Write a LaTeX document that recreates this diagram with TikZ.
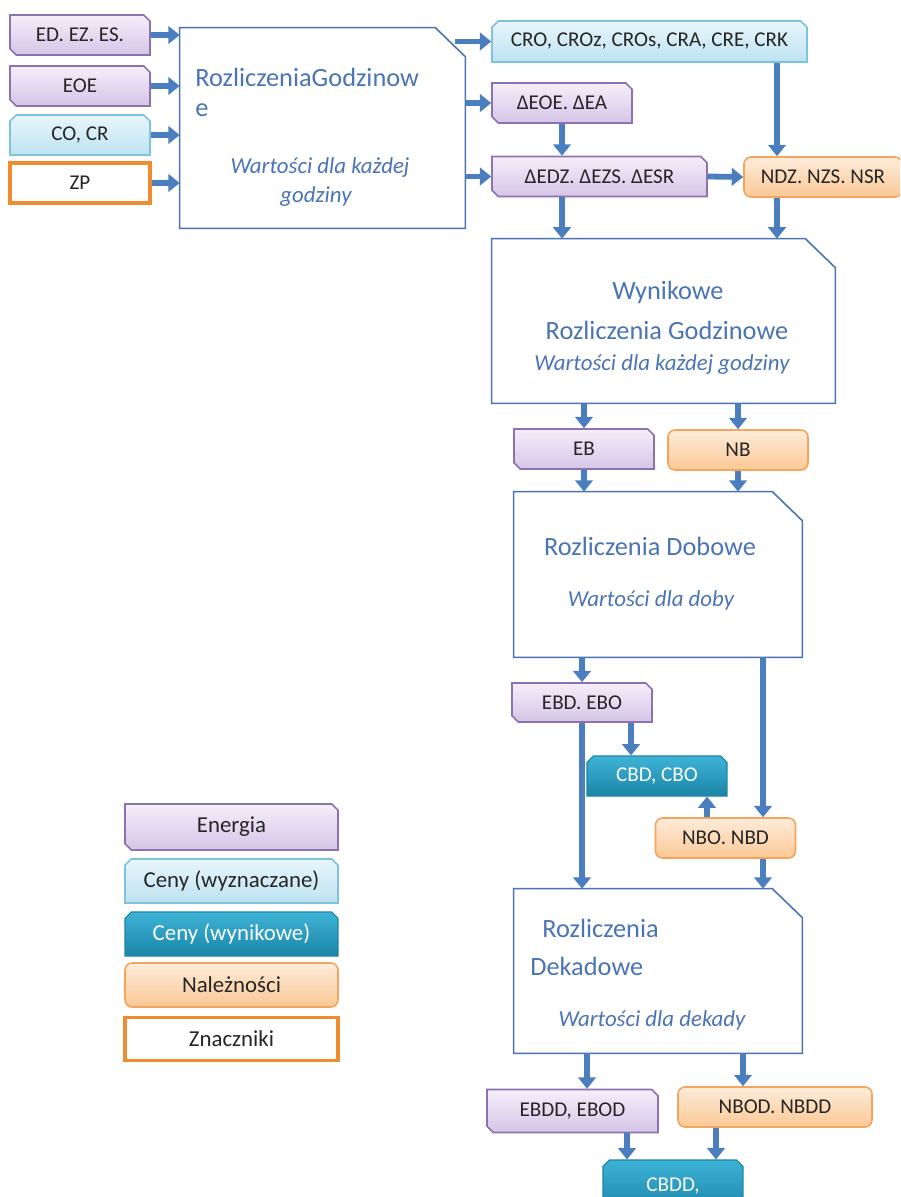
\documentclass[tikz,border=0pt]{standalone}
\usepackage{fontspec}
\setmainfont{Carlito}
\usetikzlibrary{shapes.misc,arrows.meta,calc}

\definecolor{flowblue}{HTML}{4A7EBF}
\definecolor{headblue}{HTML}{4A74B4}
\definecolor{enTop}{HTML}{F5EEFA}
\definecolor{enBot}{HTML}{D6C5E7}
\definecolor{enLine}{HTML}{8C72AE}
\definecolor{cwTop}{HTML}{E8F6FC}
\definecolor{cwBot}{HTML}{BDE2F1}
\definecolor{cwLine}{HTML}{7EC3DA}
\definecolor{crTop}{HTML}{3EB3D7}
\definecolor{crBot}{HTML}{1B85A6}
\definecolor{naTop}{HTML}{FDECDA}
\definecolor{naBot}{HTML}{FBC895}
\definecolor{naLine}{HTML}{F4A45C}
\definecolor{znLine}{HTML}{F08C30}

\newcommand{\lblfont}{\fontsize{12}{14}\selectfont}
\newcommand{\legfont}{\fontsize{13}{15}\selectfont}
\newcommand{\headfont}{\fontsize{15}{18}\selectfont}
\newcommand{\subfont}{\fontsize{13}{15}\selectfont\itshape}

% outline of a process box with the snipped top right corner
\newcommand{\procbox}[1]{%
  \draw[procline] (#1.south west) -- (#1.north west) -- ($(#1.north east)+(-30,0)$)
    -- ($(#1.north east)+(0,29)$) -- (#1.south east) -- cycle;}

\tikzset{
  flow/.style={-{Triangle[width=10pt,length=6.5pt]}, line width=3.3pt, draw=flowblue},
  item/.style={inner sep=0pt, minimum width=2.8cm, minimum height=0.8cm, font=\lblfont, text=black!85},
  energia/.style={item, chamfered rectangle, chamfered rectangle corners={north east,south west},
    chamfered rectangle xsep=1.8pt, chamfered rectangle ysep=1.8pt,
    draw=enLine, line width=0.9pt, top color=enTop, bottom color=enBot},
  cenaw/.style={item, chamfered rectangle, chamfered rectangle corners={north east,north west},
    chamfered rectangle xsep=1.8pt, chamfered rectangle ysep=1.8pt,
    draw=cwLine, line width=0.9pt, top color=cwTop, bottom color=cwBot},
  cenar/.style={item, chamfered rectangle, chamfered rectangle corners={north east,north west},
    chamfered rectangle xsep=1.8pt, chamfered rectangle ysep=1.8pt,
    draw=crBot, line width=0.6pt, top color=crTop, bottom color=crBot, text=white},
  naleznosc/.style={item, rectangle, rounded corners=4pt,
    draw=naLine, line width=0.9pt, top color=naTop, bottom color=naBot},
  znacznik/.style={item, rectangle, draw=znLine, line width=2pt, fill=white},
  proces/.style={rectangle, inner sep=0pt},
  procline/.style={draw=headblue, line width=0.9pt, fill=white},
  head/.style={font=\headfont, text=headblue, inner sep=0pt},
  sub/.style={font=\subfont, text=headblue, inner sep=0pt},
}

\begin{document}
\begin{tikzpicture}[x=0.02cm, y=-0.02cm]
  \clip (0,0) rectangle (900,1197);
  \fill[white] (0,0) rectangle (900,1197);

  % inputs
  \node[energia] (edezes) at (80,35) {ED. EZ. ES.};
  \node[energia] (eoe) at (80,86) {EOE};
  \node[cenaw] (cocr) at (80,135) {CO, CR};
  \node[znacznik] (zp) at (80,183) {ZP};

  % hourly settlement
  \node[proces, minimum width=5.7cm, minimum height=4cm] (rg) at (322.5,128) {};
  \procbox{rg}
  \node[head, anchor=west] (rgt1) at (195,77) {RozliczeniaGodzinow};
  \node[head, anchor=west] (rgt2) at (195,110) {e};
  \node[sub] (rgs1) at (320,168) {Wartości dla każdej};
  \node[sub] (rgs2) at (316,197) {godziny};

  \node[cenaw, minimum width=6.3cm, minimum height=0.82cm] (cro) at (649.5,41.5) {CRO, CROz, CROs, CRA, CRE, CRK};
  \node[energia] (deoe) at (562,103) {ΔEOE. ΔEA};
  \node[energia, minimum width=4.3cm] (dedz) at (599.5,176.5) {ΔEDZ. ΔEZS. ΔESR};
  \node[naleznosc, minimum width=3.16cm] (ndz) at (823,177) {NDZ. NZS. NSR};

  % result hourly
  \node[proces, minimum width=6.86cm, minimum height=3.28cm] (wrg) at (663.5,321) {};
  \procbox{wrg}
  \node[head] (wrgt1) at (668,292) {Wynikowe};
  \node[head] (wrgt2) at (667,330) {Rozliczenia Godzinowe};
  \node[sub] (wrgs) at (662,365) {Wartości dla każdej godziny};

  \node[energia] (eb) at (584,449) {EB};
  \node[naleznosc] (nb) at (738,450) {NB};

  % daily
  \node[proces, minimum width=5.76cm, minimum height=3.3cm] (rd) at (658,574.5) {};
  \procbox{rd}
  \node[head] (rdt) at (650,546) {Rozliczenia Dobowe};
  \node[sub] (rds) at (651,600) {Wartości dla doby};

  \node[energia, minimum height=0.78cm] (ebd) at (582,702.5) {EBD. EBO};
  \node[cenar] (cbd) at (657,776) {CBD, CBO};
  \node[naleznosc] (nbo) at (725.5,838) {NBO. NBD};

  % decade
  \node[proces, minimum width=5.76cm, minimum height=3.28cm] (rdek) at (658,971) {};
  \procbox{rdek}
  \node[head, anchor=west] (rdekt1) at (542,928) {Rozliczenia};
  \node[head, anchor=west] (rdekt2) at (530,966) {Dekadowe};
  \node[sub] (rdeks) at (652,1020) {Wartości dla dekady};

  \node[energia, minimum width=3.42cm, minimum height=0.86cm] (ebdd) at (572.5,1111) {EBDD, EBOD};
  \node[naleznosc, minimum width=3.88cm] (nbod) at (775,1107) {NBOD. NBDD};
  \node[cenar, minimum height=1.04cm] (cbdd) at (673,1186) {CBDD,};

  % legend
  \node[energia, minimum width=4.26cm, minimum height=0.92cm, font=\legfont] (legen) at (231.5,827) {Energia};
  \node[cenaw, minimum width=4.26cm, minimum height=0.88cm, font=\legfont] (legcw) at (231.5,881) {Ceny (wyznaczane)};
  \node[cenar, minimum width=4.26cm, minimum height=0.88cm, font=\legfont] (legcr) at (231.5,934) {Ceny (wynikowe)};
  \node[naleznosc, minimum width=4.26cm, minimum height=0.88cm, font=\legfont] (legna) at (231.5,985) {Należności};
  \node[znacznik, minimum width=4.26cm, minimum height=0.86cm, font=\legfont] (legzn) at (231.5,1039) {Znaczniki};

  % columns of the vertical connectors
  \coordinate (ndzcol) at (777,0);
  \coordinate (nbocol) at (763,0);
  \coordinate (cbdin) at (631,0);
  \coordinate (cbdup) at (707,0);
  \coordinate (ebddin) at (587,0);
  \coordinate (nbodin) at (743,0);
  \coordinate (cbddl) at (627,0);
  \coordinate (cbddr) at (716,0);

  % connectors
  \foreach \src in {edezes,eoe,cocr,zp}
    \draw[flow] (\src.east) -- (\src.east -| rg.west);
  \draw[flow] ($(rg.east |- cro.west)+(-10,0)$) -- (cro.west);
  \draw[flow] (rg.east |- deoe.west) -- (deoe.west);
  \draw[flow] (rg.east |- dedz.west) -- (dedz.west);
  \draw[flow] (deoe.south) -- (deoe.south |- dedz.north);
  \draw[flow] (dedz.east) -- (ndz.west);
  \draw[flow] (ndzcol |- cro.south) -- (ndzcol |- ndz.north);
  \draw[flow] (deoe.south |- dedz.south) -- (deoe.south |- wrg.north);
  \draw[flow] (ndzcol |- ndz.south) -- (ndzcol |- wrg.north);
  \draw[flow] (eb.north |- wrg.south) -- (eb.north);
  \draw[flow] (nb.north |- wrg.south) -- (nb.north);
  \draw[flow] (eb.south) -- (eb.south |- rd.north);
  \draw[flow] (nb.south) -- (nb.south |- rd.north);
  \draw[flow] (ebd.north |- rd.south) -- (ebd.north);
  \draw[flow] (nbocol |- rd.south) -- (nbocol |- nbo.north);
  \draw[flow] (cbdin |- ebd.south) -- (cbdin |- cbd.north);
  \draw[flow] (cbdup |- nbo.north) -- (cbdup |- cbd.south);
  \draw[flow] (ebd.south) -- (ebd.south |- rdek.north);
  \draw[flow] (nbocol |- nbo.south) -- (nbocol |- rdek.north);
  \draw[flow] (ebddin |- rdek.south) -- (ebddin |- ebdd.north);
  \draw[flow] (nbodin |- rdek.south) -- (nbodin |- nbod.north);
  \draw[flow] (cbddl |- ebdd.south) -- (cbddl |- cbdd.north);
  \draw[flow] (cbddr |- nbod.south) -- (cbddr |- cbdd.north);
\end{tikzpicture}
\end{document}
